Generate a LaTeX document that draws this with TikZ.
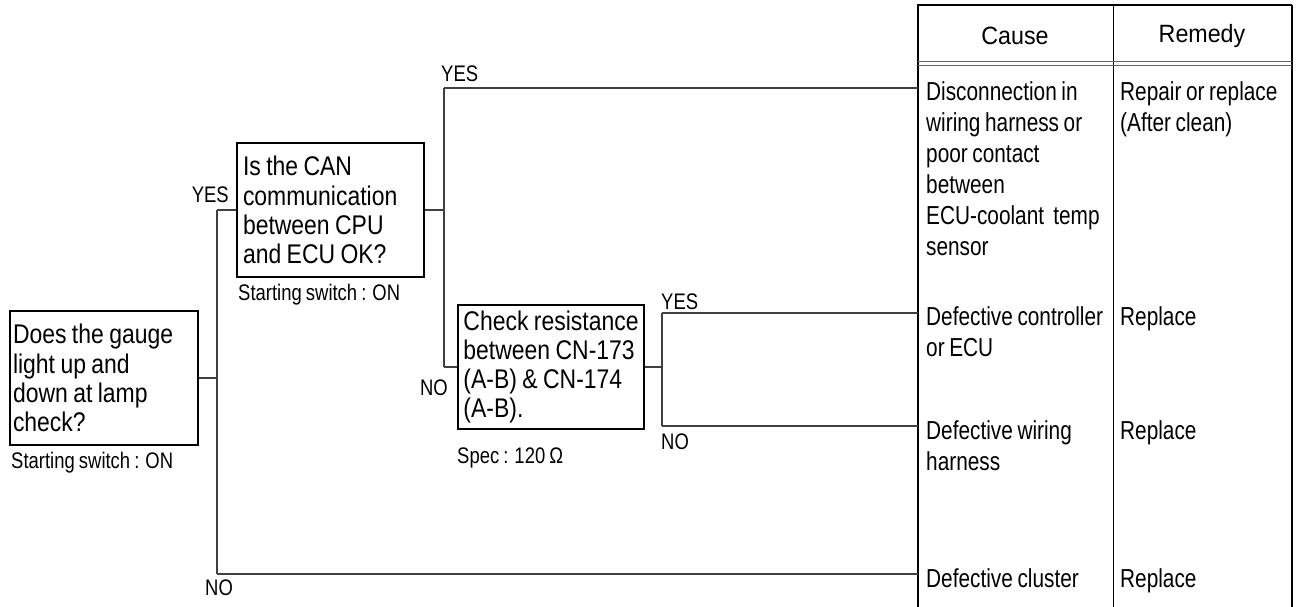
\documentclass[tikz,border=0pt]{standalone}
\usepackage{fontspec}
\setmainfont{Liberation Sans}
\newfontfamily\boxf{Liberation Sans}[FakeStretch=0.85, WordSpace=0.85]
\newfontfamily\tabf{Liberation Sans}[FakeStretch=0.80, WordSpace=0.80]
\newfontfamily\smf{Liberation Sans}[FakeStretch=0.82, WordSpace=0.82]
\newfontfamily\hdf{Liberation Sans}[FakeStretch=0.93, WordSpace=0.93]
\begin{document}
\begin{tikzpicture}[x=1pt,y=-1pt,
  conn/.style={draw=black!75, line width=1.1pt},
  qbox/.style={draw=black, line width=1.2pt, align=flush left, inner xsep=0pt, inner ysep=0pt,
    font=\boxf\fontsize{27}{29.3}\selectfont},
  lbl/.style={font=\smf\fontsize{22.5}{24}\selectfont, inner sep=0pt},
  tcell/.style={font=\tabf\fontsize{26}{31}\selectfont, align=flush left, inner xsep=8pt, inner ysep=0pt, anchor=north west},
  hd/.style={font=\hdf\fontsize{25}{30}\selectfont, inner sep=0pt},
  tline/.style={draw=black, line width=1pt}]
\useasboundingbox (0,0) rectangle (1300,607);

% question boxes
\node[qbox, minimum width=188pt, minimum height=134pt, text width=182pt] (b1) at (104,378)
  {Does the gauge\\light up and\\down at lamp\\check?};
\node[qbox, minimum width=187pt, minimum height=134pt, text width=175pt] (b2) at (330.5,210)
  {Is the CAN\\communication\\between CPU\\and ECU OK?};
\node[qbox, minimum width=186pt, minimum height=124pt] (b3) at (551,367)
  {Check resistance\\between CN-173\\(A-B) \& CN-174\\(A-B).};

% captions
\node[lbl, anchor=west] (s1) at (11,463) {Starting switch : ON};
\node[lbl, anchor=west] (s2) at (238,295) {Starting switch : ON};
\node[lbl, anchor=west] (s3) at (457,458) {Spec : 120 Ω};

% table
\draw[tline, line width=2pt] (918,5) -- (918,607);
\draw[tline, line width=1.2pt] (917,5) -- (1292,5);
\draw[tline, line width=1.5pt] (1292,5) -- (1292,607);
\draw[tline] (1113,5) -- (1113,607);
\draw[draw=black!60, line width=1pt] (918,62) -- (1292,62);
\draw[draw=black!60, line width=1pt] (918,65.5) -- (1292,65.5);

\node[hd] (hc) at (1015,36) {Cause};
\node[hd] (hr) at (1202,36) {Remedy};

\node[tcell] (c1) at (918,81) {Disconnection in\\wiring harness or\\poor contact\\between\\ECU-coolant \ temp\\sensor};
\node[tcell, inner xsep=7pt] (r1) at (1113,81) {Repair or replace\\(After clean)};
\node[tcell] (c2) at (918,306) {Defective controller\\or ECU};
\node[tcell, inner xsep=7pt] (r2) at (1113,306) {Replace};
\node[tcell] (c3) at (918,420) {Defective wiring\\harness};
\node[tcell, inner xsep=7pt] (r3) at (1113,420) {Replace};
\node[tcell] (c4) at (918,568) {Defective cluster};
\node[tcell, inner xsep=7pt] (r4) at (1113,568) {Replace};

% junctions
\coordinate (j1) at (217,378);
\coordinate (j1t) at (217,210);
\coordinate (j1b) at (217,574);
\coordinate (j2) at (444,210);
\coordinate (j2t) at (444,88);
\coordinate (j2b) at (444,367);
\coordinate (j3) at (662,367);
\coordinate (j3t) at (662,313);
\coordinate (j3b) at (662,426);

% connectors
\draw[conn] (b1.east |- j1) -- (j1);
\draw[conn] (j1t) -- (j1b);
\draw[conn] (j1t) -- (b2.west |- j1t);
\draw[conn] (j1b) -- (j1b -| c4.west);
\draw[conn] (b2.east |- j2) -- (j2);
\draw[conn] (j2t) -- (j2b);
\draw[conn] (j2t) -- (j2t -| c1.west);
\draw[conn] (j2b) -- (b3.west |- j2b);
\draw[conn] (b3.east |- j3) -- (j3);
\draw[conn] (j3t) -- (j3b);
\draw[conn] (j3t) -- (j3t -| c2.west);
\draw[conn] (j3b) -- (j3b -| c3.west);

% branch labels
\node[lbl, anchor=west] (y1) at (441,74) {YES};
\node[lbl, anchor=east] (y2) at (229,195) {YES};
\node[lbl, anchor=west] (n1) at (205,588) {NO};
\node[lbl, anchor=east] (n2) at (448,388) {NO};
\node[lbl, anchor=west] (y3) at (661,302) {YES};
\node[lbl, anchor=west] (n3) at (661,442) {NO};
\end{tikzpicture}
\end{document}
